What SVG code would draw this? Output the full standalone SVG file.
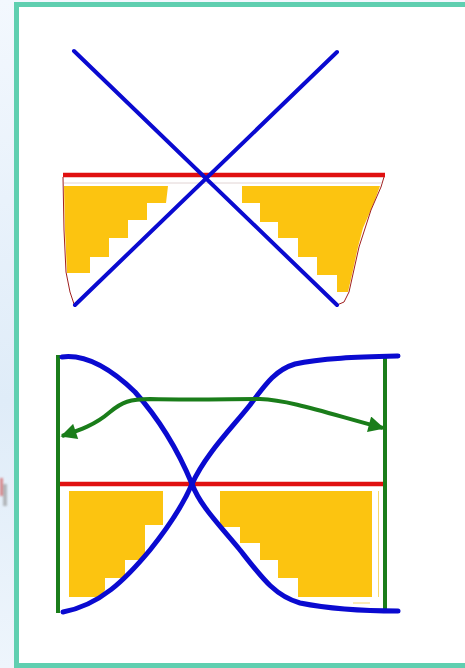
<svg xmlns="http://www.w3.org/2000/svg" width="465" height="668" viewBox="0 0 465 668">
<defs>
<linearGradient id="bg" x1="0" y1="0" x2="0" y2="1">
<stop offset="0" stop-color="#f3f8fe"/>
<stop offset="0.6" stop-color="#dfecf8"/>
<stop offset="1" stop-color="#eef5fc"/>
</linearGradient>
<filter id="blur" x="-50%" y="-50%" width="200%" height="200%">
<feGaussianBlur stdDeviation="1.2"/>
</filter>
<marker id="ah" viewBox="0 0 10 10" refX="9" refY="5" markerWidth="4.5" markerHeight="4" orient="auto-start-reverse" markerUnits="strokeWidth">
<path d="M0,0 L10,5 L0,10 Z" fill="#1a7d1a"/>
</marker>
<style>
.blue{fill:none;stroke:#0a0ad0;stroke-linecap:round}
.red{stroke:#e01010;stroke-width:4.5}
.green{fill:none;stroke:#1a7d1a;stroke-width:4}
.yellow{fill:#fcc410}
.outline{fill:none;stroke:#a02020;stroke-width:1}
</style>
</defs>
<rect x="0" y="0" width="465" height="668" fill="url(#bg)"/>
<rect x="16.5" y="4.5" width="540" height="661" fill="#ffffff" stroke="#5fcfb0" stroke-width="5"/>
<g id="edge-glyph" opacity="0.6" filter="url(#blur)">
<rect x="0" y="478" width="3" height="18" fill="#d04040"/>
<rect x="3" y="484" width="4" height="22" fill="#909090"/>
</g>

<g id="top-diagram">
<g id="top-yellow">
<polygon class="yellow" points="64,186 168,186 166,203 147,203 147,220 128,220 128,238 109,238 109,257 90,257 90,273 67,273 65,230"/>
<polygon class="yellow" points="242,186 380,186 375,200 370,212 363,228 358,247 353,270 348,292 337,292 337,275 317,275 317,257 298,257 298,238 278,238 278,222 260,222 260,203 242,203"/>
</g>
<polyline class="outline" points="63,177 64,230 66,272 70,292 74,304"/>
<polyline class="outline" points="384,177 381,187 371,210 359,247 349,292 344,302 337,305"/>
<line x1="64" y1="183" x2="382" y2="183" stroke="#d9c9c9" stroke-width="0.8"/>
<line id="top-red" class="red" x1="63" y1="175" x2="385" y2="175"/>
<line id="blue-a" class="blue" stroke-width="4" x1="74" y1="51" x2="337" y2="305"/>
<line id="blue-b" class="blue" stroke-width="4" x1="337" y1="52" x2="75" y2="305"/>
</g>

<g id="bottom-diagram">
<g id="bottom-yellow">
<polygon class="yellow" points="69,491 163,491 163,525 145,525 145,560 125,560 125,578 105,578 105,590 100,597 69,597"/>
<polygon class="yellow" points="220,491 372,491 372,597 298,597 298,578 278,578 278,560 260,560 260,543 240,543 240,527 220,527"/>
<line x1="378.5" y1="491" x2="378.5" y2="597" stroke="#f6d86a" stroke-width="1"/>
<line x1="353" y1="603" x2="370" y2="603" stroke="#f6d86a" stroke-width="1"/>
</g>
<line id="left-bar" class="green" x1="58" y1="355" x2="58" y2="613"/>
<line id="right-bar" class="green" x1="385" y1="355" x2="385" y2="613"/>
<line id="bottom-red" class="red" x1="60" y1="484" x2="383" y2="484"/>
<path id="blue-c" class="blue" stroke-width="5" d="M62,357 C85,354 110,368 135,392 C160,420 180,455 192,484 C200,505 215,520 240,550 C262,578 275,596 300,603 C330,609 360,611 398,611"/>
<path id="blue-d" class="blue" stroke-width="5" d="M398,356 C360,357 320,358 295,364 C275,370 265,385 250,405 C230,430 205,455 192,484 C183,505 170,525 150,550 C125,580 100,605 63,612"/>
</g>

<g id="connectors">
<path id="green-arrow" class="green" marker-start="url(#ah)" marker-end="url(#ah)" d="M62,436 C80,430 95,425 110,412 C122,402 130,399 150,399 C190,400 230,399 260,399 C290,400 330,414 383,428"/>
</g>
</svg>
